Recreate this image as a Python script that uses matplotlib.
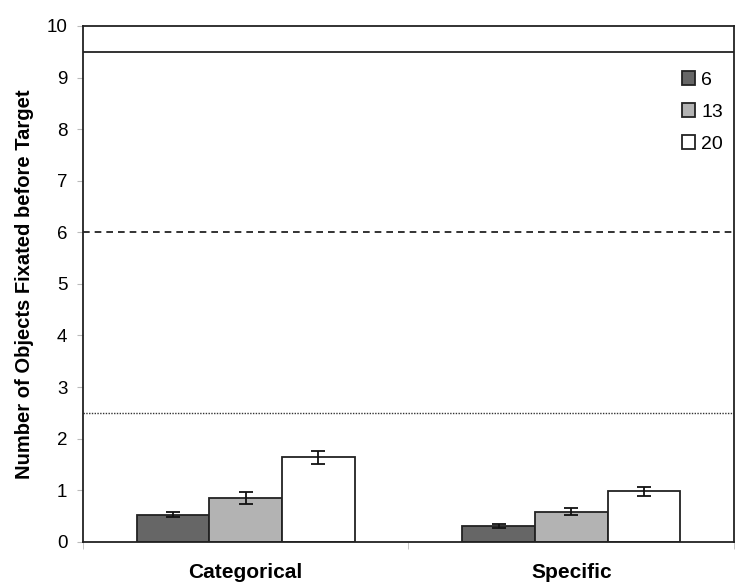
import matplotlib.pyplot as plt
import numpy as np

plt.rcParams['font.family'] = ['Liberation Sans', 'DejaVu Sans']

# Data
categories = ['Categorical', 'Specific']
set_sizes = ['6', '13', '20']
means = {
    '6': [0.52, 0.30],
    '13': [0.85, 0.58],
    '20': [1.64, 0.98],
}
errors = {
    '6': [0.05, 0.035],
    '13': [0.11, 0.068],
    '20': [0.125, 0.084],
}
ref_lines = [9.5, 6.0, 2.5]  # solid, dashed, dotted
colors = ['#666666', '#b3b3b3', '#ffffff']

fig = plt.figure(figsize=(7.44, 5.88), dpi=100)
ax = fig.add_axes([0.1112, 0.0787, 0.8755, 0.8771])

x = np.arange(len(categories))
width = 0.223
for i, s in enumerate(set_sizes):
    pos = x + (i - 1) * width
    ax.bar(pos, means[s], width, color=colors[i], edgecolor='#222222',
           linewidth=1.3, label=s, zorder=2)
    ax.errorbar(pos, means[s], yerr=errors[s], fmt='none', ecolor='#111111',
                elinewidth=1.3, capsize=5, capthick=1.3, zorder=3)

# reference lines
ax.axhline(ref_lines[0], color='#111111', linewidth=1.2, linestyle='-', zorder=1)
ax.axhline(ref_lines[1], color='#111111', linewidth=1.2, linestyle=(0, (4, 3)), zorder=1)
ax.axhline(ref_lines[2], color='#333333', linewidth=1.0, linestyle=(0, (1, 1)), zorder=1)

ax.set_xlim(-0.5, 1.5)
ax.set_ylim(0, 10)
ax.set_yticks(range(0, 11))
ax.tick_params(axis='y', labelsize=13.5, length=4, color='#bbbbbb', pad=7)
ax.set_xticks(x)
ax.set_xticklabels(categories, fontsize=15, fontweight='bold')
ax.tick_params(axis='x', which='major', length=0, pad=15)
ax.set_xticks([-0.5, 0.5, 1.5], minor=True)
ax.tick_params(axis='x', which='minor', length=5, color='#bbbbbb')
ax.set_ylabel('Number of Objects Fixated before Target', fontsize=14.5,
              fontweight='bold', labelpad=9)

for sp in ax.spines.values():
    sp.set_color('#222222')
    sp.set_linewidth(1.3)

ax.legend(loc='upper right', bbox_to_anchor=(0.995, 0.928), frameon=False,
          fontsize=14, handlelength=0.7, handleheight=0.7,
          handletextpad=0.3, labelspacing=0.75, borderaxespad=0)

plt.savefig('out.png', dpi=100)
